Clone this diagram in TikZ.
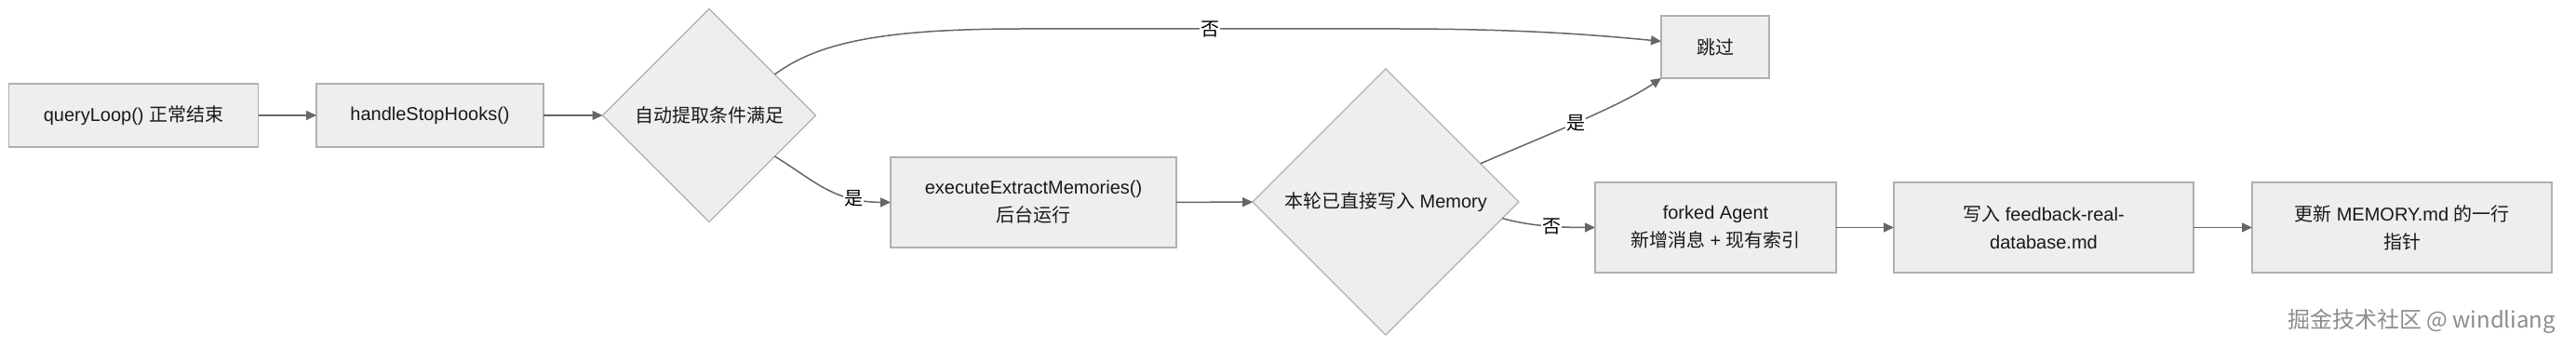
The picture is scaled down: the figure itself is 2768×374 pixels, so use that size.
\documentclass[tikz,border=0pt]{standalone}
\usepackage{fontspec}
\setmainfont{Liberation Sans}
\newfontfamily\zh{Noto Sans CJK SC}
\usetikzlibrary{arrows.meta,shapes.geometric}
\definecolor{box-fill}{HTML}{EEEEEE}
\definecolor{box-draw}{HTML}{B0B0B0}
\definecolor{flow-draw}{HTML}{666666}
\definecolor{mark-gray}{HTML}{8C8C8C}

\begin{document}
\begin{tikzpicture}[x=1pt,y=-1pt,
 box/.style={draw=box-draw, fill=box-fill, line width=1.5pt, inner sep=0, outer sep=0, align=center, text=black!90, font=\fontsize{20}{30}\selectfont},
 cond/.style={diamond, aspect=1, draw=box-draw, fill=box-fill, line width=1.2pt, inner sep=0, outer sep=0, align=center, text=black!90, font=\fontsize{20}{30}\selectfont},
 flow/.style={-{Triangle[length=11pt,width=10pt]}, line width=1.5pt, flow-draw},
 lbl/.style={fill=white, inner sep=1pt, text=black, font=\fontsize{20}{24}\zh},
]
 \useasboundingbox (0,0) rectangle (2768,374);
 %
 \node[box, minimum width=268pt, minimum height=68pt] (query) at (143.5,124) {queryLoop() {\zh 正常结束}};
 \node[box, minimum width=244pt, minimum height=68pt] (hooks) at (462,124) {handleStopHooks()};
 \node[cond, minimum size=229pt] (auto) at (762,124) {\zh 自动提取条件满足};
 \node[box, minimum width=307pt, minimum height=97pt] (extract) at (1110.5,217.5) {executeExtractMemories()\\{\zh 后台运行}};
 \node[cond, minimum size=286pt] (written) at (1489,217) {{\zh 本轮已直接写入} Memory};
 \node[box, minimum width=116pt, minimum height=67pt] (skip) at (1843,50.5) {\zh 跳过};
 \node[box, minimum width=259pt, minimum height=97pt] (forked) at (1843.5,244.5) {forked Agent\\{\zh 新增消息} + {\zh 现有索引}};
 \node[box, minimum width=322pt, minimum height=97pt] (feedback) at (2196,244.5) {{\zh 写入} feedback-real-\\database.md};
 \node[box, minimum width=322pt, minimum height=97pt] (pointer) at (2581,244.5) {{\zh 更新} MEMORY.md {\zh 的一行}\\{\zh 指针}};

 %
 \draw[flow] (query) -- (hooks);
 \draw[flow] (hooks) -- (auto);
 \draw[flow] (auto.32) .. controls (880,45) and (950,31) .. (1100,31)
   -- node[lbl]{否} (1500,31) .. controls (1620,31) and (1700,36) .. (skip.174);
 \draw[flow] (auto.-32) .. controls (875,194) and (895,217) .. node[lbl,pos=0.75]{是} (extract.west);
 \draw[flow] (extract) -- (written);
 \draw[flow] (written.22) .. controls (1650,150) and (1740,115) .. node[lbl]{是} (skip.south west);
 \draw[flow] (written.-8) .. controls (1640,242) and (1670,244.5) .. node[lbl,pos=0.6]{否} (forked.west);
 \draw[flow] (forked) -- (feedback);
 \draw[flow] (feedback) -- (pointer);

 %
 \node[font=\fontsize{24}{24}\zh, text=mark-gray] (mark) at (2602,345) {掘金技术社区 @ windliang};
\end{tikzpicture}
\end{document}
